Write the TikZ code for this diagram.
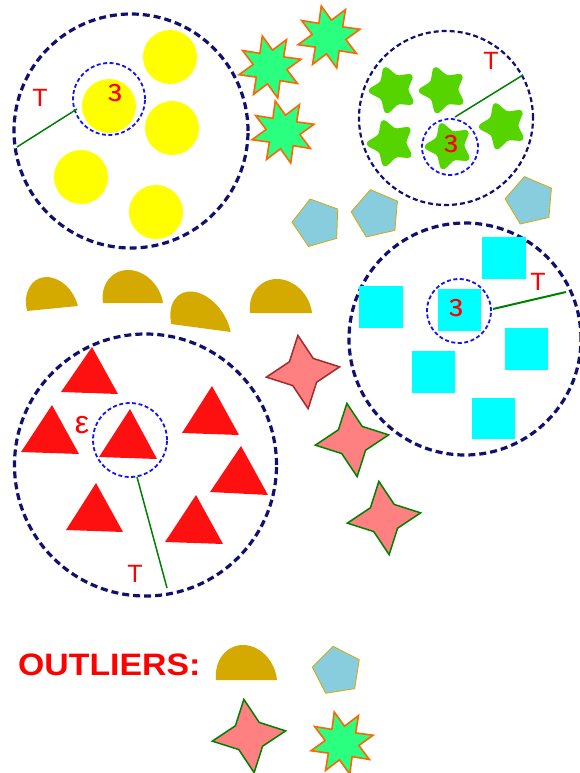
\documentclass[tikz,border=0pt]{standalone}
\usepackage{graphicx}
\usepackage{fontspec}
\setmainfont{Liberation Sans}
\definecolor{navyd}{RGB}{16,16,112}
\definecolor{epsblue}{RGB}{20,20,240}
\definecolor{tgreen}{RGB}{0,128,0}
\definecolor{yel}{RGB}{255,255,0}
\definecolor{burstfill}{RGB}{42,255,128}
\definecolor{burstline}{RGB}{255,102,0}
\definecolor{starfill}{RGB}{85,212,0}
\definecolor{pentfill}{RGB}{135,205,222}
\definecolor{pentline}{RGB}{212,170,0}
\definecolor{gold}{RGB}{212,170,0}
\definecolor{trired}{RGB}{255,16,16}
\definecolor{sqcyan}{RGB}{0,255,255}
\definecolor{pinkf}{RGB}{255,128,128}
\definecolor{pinkdark}{RGB}{160,44,44}
\definecolor{tred}{RGB}{255,0,0}
\tikzset{
  bigring/.style={draw=navyd, line width=3.2pt, dash pattern=on 7pt off 4pt},
  thinring/.style={draw=navyd, line width=2.2pt, dash pattern=on 5pt off 3pt},
  epsring/.style={draw=epsblue, line width=1.8pt, dash pattern=on 4pt off 2.5pt},
  tline/.style={draw=tgreen, line width=1.5pt},
  tlabel/.style={text=tred, inner sep=0pt, font=\fontsize{25}{25}\selectfont},
  elabel/.style={text=tred, inner sep=0pt, font=\fontsize{32}{32}\selectfont},
  glabel/.style={text=tred, inner sep=0pt, font=\bfseries\fontsize{31}{31}\selectfont},
  burststyle/.style={fill=burstfill, draw=burstline, line width=1.6pt, line join=miter},
  gstarstyle/.style={fill=starfill, draw=starfill, line width=3.5pt, rounded corners=3pt, line join=round},
  pentstyle/.style={fill=pentfill, draw=pentline, line width=0.8pt},
  pinkstyle/.style={fill=pinkf, line width=1.5pt, line join=miter},
  tristyle/.style={fill=trired},
  sqstyle/.style={fill=sqcyan},
  diskstyle/.style={fill=gold}
}
\newcommand{\burst}[2]{%
  \draw[burststyle, shift={(#1,#2)}] (14:32pt)
    \foreach \k in {1,...,7}{ -- ({14+45*\k-22.5}:17pt) -- ({14+45*\k}:32pt)}
    -- (351.5:17pt) -- cycle;}
\newcommand{\gstar}[2]{%
  \draw[gstarstyle, shift={(#1,#2)}] (74:13pt)
    \foreach \k in {0,...,3}{ -- ({110+72*\k}:24pt) -- ({146+72*\k}:13pt)}
    -- (38:24pt) -- cycle;}
\newcommand{\pent}[3]{%
  \draw[pentstyle, shift={(#1,#2)}] (#3:25pt) -- ({#3+72}:25pt) -- ({#3+144}:25pt)
    -- ({#3+216}:25pt) -- ({#3+288}:25pt) -- cycle;}
\newcommand{\pstar}[3]{%
  \draw[pinkstyle, draw=#3, shift={(#1,#2)}] (8:37pt) -- (53:17pt) -- (98:37pt) -- (143:17pt)
    -- (188:37pt) -- (233:17pt) -- (278:37pt) -- (323:17pt) -- cycle;}
\newcommand{\hdisk}[6]{%
  \fill[diskstyle, shift={(#1,#2)}, rotate=#3, xslant=#6] (-#4pt,0pt)
    arc[start angle=180, end angle=0, x radius=#4pt, y radius=#5pt] -- cycle;}
\begin{document}
\begin{tikzpicture}[x=1pt, y=-1pt]
\useasboundingbox (0,0) rectangle (579,773);
% big rings
\draw[bigring] (131,131) circle[radius=117pt];
\draw[thinring] (446,118) circle[radius=87pt];
\draw[bigring] (145.5,465) circle[radius=131pt];
\draw[bigring] (465,339) circle[radius=116pt];
% yellow discs
\foreach \p in {(170,57),(109,106),(172,128),(81,177),(156,212)}
  \fill[yel] \p circle[radius=27pt];
% green 5-point stars
\gstar{393}{90}
\gstar{443}{90}
\gstar{503}{126}
\gstar{391}{143}
\gstar{449}{146}
% red triangles
\fill[tristyle] (92,347) -- (61,392) -- (118,394) -- cycle;
\fill[tristyle] (52,405) -- (21,452) -- (79,454) -- cycle;
\fill[tristyle] (130,409) -- (99,457) -- (157,459) -- cycle;
\fill[tristyle] (212,386) -- (182,433) -- (239,435) -- cycle;
\fill[tristyle] (241,446) -- (210,492) -- (268,495) -- cycle;
\fill[tristyle] (96,483) -- (66,530) -- (123,532) -- cycle;
\fill[tristyle] (196,495) -- (165,542) -- (223,544) -- cycle;
% cyan squares
\fill[sqstyle] (482,237) rectangle (526,279);
\fill[sqstyle] (359,286) rectangle (403,328);
\fill[sqstyle] (438,289) rectangle (481,331);
\fill[sqstyle] (505,328) rectangle (548,370);
\fill[sqstyle] (412,351) rectangle (455,393);
\fill[sqstyle] (472,398) rectangle (515,439);
% starbursts
\burst{270}{67}
\burst{329}{37}
\burst{283}{132}
\burst{342}{743}
% pentagons
\pent{317}{223}{106}
\pent{376}{214}{103}
\pent{530}{201}{103}
\pent{337}{671}{99}
% half disks
\hdisk{52.5}{308.5}{5.6}{25.5}{32}{-0.15}
\hdisk{133}{303}{0}{30}{33}{-0.15}
\hdisk{201}{328}{-7.6}{30}{35}{-0.35}
\hdisk{281}{313}{0}{31}{34}{-0.12}
\hdisk{246.5}{680}{0}{30.5}{35}{-0.1}
% pink stars
\pstar{303}{372}{pinkdark}
\pstar{352}{440}{tgreen}
\pstar{384}{518}{tgreen}
\pstar{249}{736}{tgreen}
% epsilon rings
\draw[epsring] (109,99) circle[radius=36pt];
\draw[epsring] (450,147) circle[radius=28pt];
\draw[epsring] (130,440) circle[radius=37pt];
\draw[epsring] (459,311) circle[radius=32pt];
% T lines
\coordinate (a1) at (17,147); \coordinate (b1) at (77,109);
\coordinate (a2) at (455,117); \coordinate (b2) at (523,75);
\coordinate (a3) at (137,477); \coordinate (b3) at (167,588);
\coordinate (a4) at (493,309); \coordinate (b4) at (566,292);
\draw[tline] (a1) -- (b1);
\draw[tline] (a2) -- (b2);
\draw[tline] (a3) -- (b3);
\draw[tline, line width=2pt] (a4) -- (b4);
% labels
\node[tlabel] (t1) at (40,98) {T};
\node[tlabel] (t2) at (491,61) {T};
\node[tlabel] (t3) at (135,574) {T};
\node[tlabel] (t4) at (538,282) {T};
\node[elabel] (e1) at (115,93) {\reflectbox{ε}};
\node[elabel] (e2) at (451,144) {\reflectbox{ε}};
\node[elabel] (e3) at (82,425) {ε};
\node[elabel] (e4) at (456,308) {\reflectbox{ε}};
\node[glabel, anchor=base west] (out) at (18,675) {\scalebox{1.09}[1]{OUTLIERS:}};
\end{tikzpicture}
\end{document}
